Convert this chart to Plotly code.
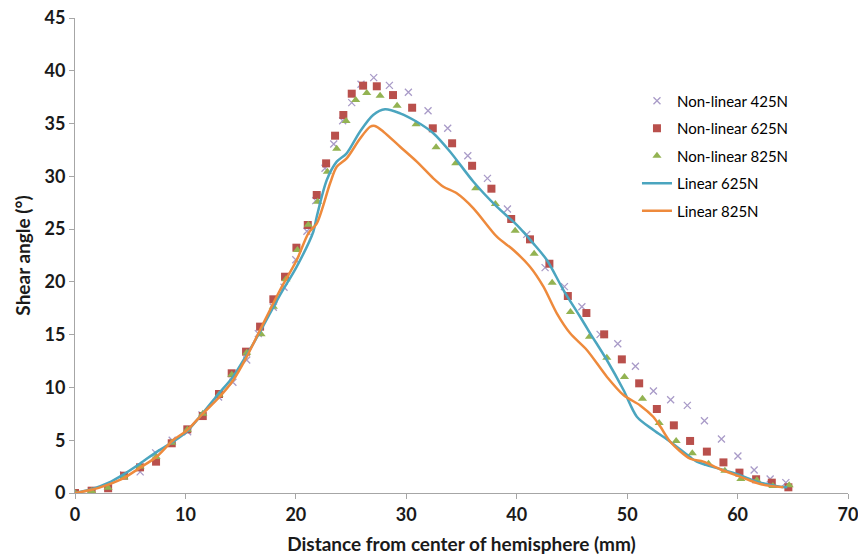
import plotly.graph_objects as go

# Non-linear 425N (crosses)
x425 = [0, 1.5, 3.0, 4.4, 5.9, 7.3, 8.8, 10.2, 11.5, 13.0, 14.3, 15.55, 16.6, 17.96, 18.93, 19.99, 21.0, 21.8, 22.64, 23.43, 24.24, 25.06, 25.9, 27.05, 28.47, 30.19, 31.97, 33.75, 35.57, 37.35, 39.16, 40.91, 42.57, 44.32, 45.9, 47.55, 49.15, 50.75, 52.38, 53.94, 55.45, 57.0, 58.54, 60.03, 61.5, 62.95, 64.37]
y425 = [0, 0.2, 0.5, 1.7, 2.0, 3.8, 5.0, 5.8, 7.4, 9.1, 10.5, 12.6, 15.1, 17.6, 19.5, 22.1, 24.8, 27.7, 30.76, 33.06, 35.27, 36.98, 38.72, 39.35, 38.62, 37.96, 36.22, 34.55, 31.95, 29.81, 26.9, 24.5, 21.35, 19.55, 17.65, 15.03, 14.14, 12.0, 9.66, 8.84, 8.3, 6.85, 5.12, 3.51, 2.18, 1.33, 0.98]

# Non-linear 625N (squares)
x625 = [0, 1.51, 3.0, 4.44, 5.89, 7.34, 8.76, 10.17, 11.57, 13.04, 14.19, 15.49, 16.76, 17.96, 19.02, 20.05, 21.08, 21.89, 22.74, 23.55, 24.3, 25.06, 26.09, 27.33, 28.8, 30.53, 32.4, 34.15, 35.96, 37.71, 39.5, 41.2, 42.96, 44.63, 46.31, 47.92, 49.52, 51.09, 52.69, 54.23, 55.7, 57.22, 58.72, 60.17, 61.68, 63.1, 64.6]
y625 = [0, 0.22, 0.45, 1.64, 2.43, 2.97, 4.71, 6.03, 7.29, 9.38, 11.34, 13.39, 15.76, 18.35, 20.49, 23.24, 25.39, 28.23, 31.23, 33.85, 35.81, 37.83, 38.59, 38.53, 37.7, 36.5, 34.55, 33.13, 31.0, 28.83, 25.96, 24.03, 21.72, 18.66, 17.05, 15.03, 12.66, 10.39, 7.96, 6.41, 4.93, 3.92, 2.9, 1.93, 1.3, 0.98, 0.54]

# Non-linear 825N (triangles)
x825 = [0, 1.5, 3.0, 4.44, 5.89, 7.34, 8.76, 10.17, 11.57, 13.04, 14.2, 15.55, 16.85, 17.96, 19.11, 20.14, 21.13, 21.98, 22.85, 23.7, 24.55, 25.42, 26.42, 27.63, 29.17, 30.89, 32.7, 34.48, 36.29, 38.07, 39.86, 41.58, 43.21, 44.87, 46.59, 48.16, 49.76, 51.39, 52.9, 54.44, 55.9, 57.37, 58.85, 60.3, 61.75, 63.2, 64.67]
y825 = [0, 0.2, 0.5, 1.5, 2.5, 3.4, 4.77, 6.0, 7.5, 9.3, 11.2, 13.29, 15.03, 17.65, 20.24, 23.02, 25.42, 27.6, 30.44, 32.62, 35.24, 37.23, 37.9, 37.64, 36.69, 34.93, 32.75, 31.23, 28.87, 27.38, 24.85, 22.67, 19.92, 17.15, 14.81, 12.82, 10.99, 8.93, 6.63, 4.93, 3.76, 2.78, 2.11, 1.33, 1.2, 0.66, 0.73]

# Linear 625N (line)
xL625 = [0, 1.5, 3.0, 4.4, 5.9, 7.4, 8.8, 10.1, 11.6, 13.0, 14.3, 15.5, 16.76, 18.57, 20.08, 21.58, 21.89, 22.8, 23.7, 24.6, 25.8, 27.0, 28.08, 29.44, 30.95, 32.45, 33.97, 36.08, 38.2, 40.0, 41.5, 42.73, 44.23, 45.74, 46.65, 48.16, 49.67, 50.88, 52.38, 53.9, 55.7, 56.3, 58.7, 60.2, 61.75, 63.86, 64.5]
yL625 = [0, 0.35, 0.95, 1.77, 2.8, 3.9, 4.8, 5.8, 7.6, 9.4, 11.0, 13.0, 15.28, 18.76, 21.44, 24.75, 26.17, 29.65, 31.39, 32.18, 34.23, 35.81, 36.35, 35.97, 35.17, 34.08, 32.33, 29.49, 27.12, 25.39, 23.65, 22.07, 19.23, 16.7, 15.13, 12.6, 9.76, 7.23, 5.97, 4.86, 3.4, 2.97, 2.18, 1.7, 1.07, 0.6, 0.55]

# Linear 825N (line)
xL825 = [0, 1.5, 3.0, 4.37, 5.9, 7.4, 8.9, 10.1, 11.6, 13.0, 14.34, 15.5, 16.76, 18.57, 20.08, 21.13, 21.9, 23.1, 23.7, 24.6, 25.8, 26.72, 27.17, 27.93, 29.44, 30.95, 32.45, 33.36, 34.57, 36.08, 38.2, 39.7, 41.2, 42.42, 43.63, 44.84, 46.35, 48.16, 49.67, 51.18, 52.38, 53.0, 53.9, 55.7, 56.9, 58.42, 60.23, 62.05, 64.15]
yL825 = [0, 0.3, 0.8, 1.39, 2.4, 3.44, 5.02, 5.9, 7.55, 9.0, 10.7, 12.8, 15.44, 19.23, 22.07, 24.6, 25.55, 29.34, 30.9, 31.7, 33.56, 34.7, 34.77, 34.23, 32.8, 31.39, 29.81, 29.02, 28.39, 26.97, 24.28, 23.02, 21.44, 19.55, 17.02, 15.13, 13.55, 11.02, 9.28, 8.3, 7.2, 6.3, 4.86, 3.25, 2.97, 2.25, 1.55, 0.85, 0.54]

FONT = "Lato, 'Open Sans', sans-serif"

fig = go.Figure()
fig.add_trace(go.Scatter(x=x425, y=y425, mode="markers", name="Non-linear 425N",
                         legendgroup="a",
                         marker=dict(symbol="x-thin", size=7, color="#A99BC8",
                                     line=dict(width=1.3, color="#A99BC8"))))
fig.add_trace(go.Scatter(x=x625, y=y625, mode="markers", name="Non-linear 625N",
                         legendgroup="b",
                         marker=dict(symbol="square", size=8, color="#B9504C")))
fig.add_trace(go.Scatter(x=x825, y=y825, mode="markers", name="Non-linear 825N",
                         legendgroup="c",
                         marker=dict(symbol="triangle-up", size=8, color="#93B352")))
fig.add_trace(go.Scatter(x=xL625, y=yL625, mode="lines", name="Linear 625N",
                         legendgroup="d",
                         line=dict(color="#4BA5BF", width=2.5, shape="spline", smoothing=0.8)))
fig.add_trace(go.Scatter(x=xL825, y=yL825, mode="lines", name="Linear 825N",
                         legendgroup="e",
                         line=dict(color="#EE8A3C", width=2.5, shape="spline", smoothing=0.8)))

axis_common = dict(showgrid=False, zeroline=False, showline=True, linecolor="#A6A6A6",
                   linewidth=1, ticks="outside", tickcolor="#A6A6A6", ticklen=5,
                   automargin=False, ticklabeloverflow="allow",
                   tickfont=dict(family=FONT, size=18, color="#1a1a1a", weight="bold"))

fig.update_layout(
    width=858, height=559,
    margin=dict(l=75, r=10, t=18, b=66),
    paper_bgcolor="white", plot_bgcolor="white",
    font=dict(family=FONT, color="#000000"),
    xaxis=dict(range=[0, 70], dtick=10, **axis_common,
               title=dict(text="<b>Distance from center of hemisphere (mm)</b>",
                          font=dict(family=FONT, size=19, color="#1a1a1a"), standoff=14)),
    yaxis=dict(range=[0, 45], dtick=5, **axis_common,
               title=dict(text="<b>Shear angle (°)</b>",
                          font=dict(family=FONT, size=19, color="#1a1a1a"), standoff=8)),
    legend=dict(x=0.727, y=0.86, xanchor="left", yanchor="top",
                font=dict(family=FONT, size=15, color="#000000"),
                bgcolor="rgba(0,0,0,0)", tracegroupgap=5, itemwidth=30),
    showlegend=True,
)

fig.write_html("out.html")
